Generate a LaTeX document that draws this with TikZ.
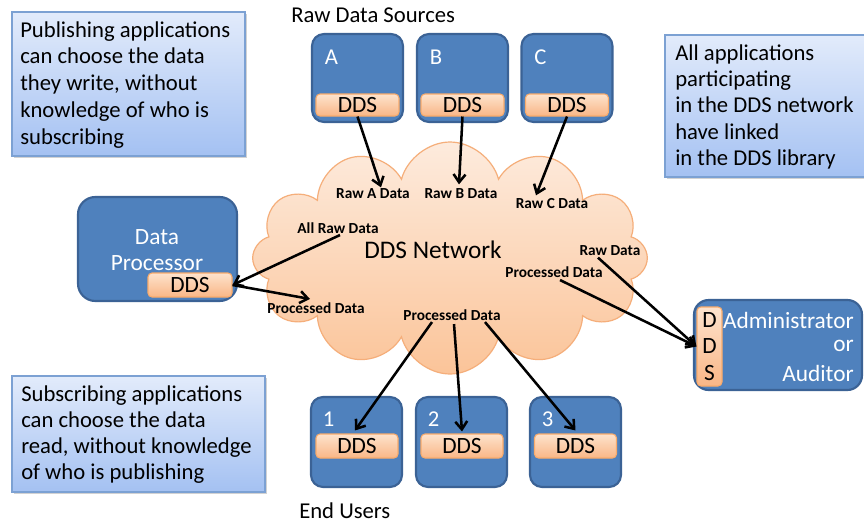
\documentclass[tikz,border=0pt]{standalone}
\usepackage{fontspec}
\setmainfont{Carlito}
\usetikzlibrary{shapes.symbols,arrows.meta,shadows,calc}
\definecolor{boxblue}{HTML}{4F81BD}
\definecolor{boxedge}{HTML}{3B6295}
\definecolor{ddstop}{HTML}{FDE3CD}
\definecolor{ddsbot}{HTML}{F9B686}
\definecolor{ddsedge}{HTML}{F79646}
\definecolor{cloudtop}{HTML}{FDEBDD}
\definecolor{cloudbot}{HTML}{FBC499}
\definecolor{cloudedge}{HTML}{F5AE7A}
\definecolor{notetop}{HTML}{E2EBFB}
\definecolor{notebot}{HTML}{A4C1F2}
\definecolor{noteedge}{HTML}{7CA1D3}
\begin{document}
\begin{tikzpicture}[x=0.75pt,y=-0.75pt,
  appbox/.style={draw=boxedge,fill=boxblue,line width=1.6pt,rounded corners=9pt,inner sep=0pt},
  ddsbox/.style={draw=ddsedge!80,top color=ddstop,bottom color=ddsbot,line width=0.8pt,rounded corners=3pt,inner sep=0pt,font=\fontsize{17.5}{19}\selectfont},
  notebox/.style={draw=noteedge,line width=0.9pt,top color=notetop,bottom color=notebot,inner sep=0pt,
    drop shadow={shadow xshift=1.5pt,shadow yshift=-1.5pt,opacity=0.35}},
  notetext/.style={anchor=north west,align=left,inner sep=0pt,font=\fontsize{17}{20.2}\selectfont},
  whitelbl/.style={text=white,inner sep=0pt,font=\fontsize{17}{19}\selectfont},
  biglbl/.style={text=white,inner sep=0pt,font=\fontsize{17.5}{19.5}\selectfont},
  datalbl/.style={inner sep=1pt,font=\fontsize{11.5}{13}\selectfont\bfseries},
  flow/.style={line width=1.9pt,-{Straight Barb[length=6pt,width=9pt,line width=1.9pt]}},
  caption/.style={inner sep=0pt,font=\fontsize{17}{19.5}\selectfont}
]
\clip (0,0) rectangle (864,525);
\useasboundingbox (0,0) rectangle (864,525);
\fill[white] (0,0) rectangle (864,525);

% notes
\node[notebox,minimum width=174.75pt,minimum height=108pt] (noteTL) at (128.5,84) {};
\node[notetext] (noteTLt) at (20,21) {Publishing applications\\can choose the data\\they write, without\\knowledge of who is\\subscribing};
\node[notebox,minimum width=153pt,minimum height=106.5pt] (noteTR) at (767,106) {};
\node[notetext,font=\fontsize{17}{19.8}\selectfont] (noteTRt) at (675,44) {All applications\\participating\\in the DDS network\\have linked\\in the DDS library};
\node[notebox,minimum width=189.75pt,minimum height=87pt] (noteBL) at (138.5,434) {};
\node[notetext,font=\fontsize{17}{19.5}\selectfont] (noteBLt) at (21,385) {Subscribing applications\\can choose the data\\read, without knowledge\\of who is publishing};

% captions
\node[caption,anchor=west] (srcs) at (291,15) {Raw Data Sources};
\node[caption,anchor=west] (users) at (299,511) {End Users};

% cloud
\node[cloud,cloud puffs=12,aspect=1.7,draw=cloudedge,line width=0.9pt,top color=cloudtop,bottom color=cloudbot,
  minimum width=296pt,minimum height=174pt,inner sep=0pt] (net) at (450,258) {};
\node[inner sep=0pt,font=\fontsize{19}{21}\selectfont] (netlbl) at (433,250) {DDS Network};

% raw sources
\foreach \n/\cx in {A/357.5,B/462.5,C/567}{
  \node[appbox,minimum width=68.25pt,minimum height=66pt] (box\n) at (\cx,78) {};
  \node[ddsbox,minimum width=62.25pt,minimum height=16.5pt] (dds\n) at (\cx,105) {DDS};
  \node[whitelbl,anchor=west] (lbl\n) at (\cx-33,57) {\n};
}

% end users
\foreach \n/\cx/\dx in {1/356.5/357,2/461.5/462,3/575.5/575.5}{
  \node[appbox,minimum width=68.25pt,minimum height=67.5pt] (user\n) at (\cx,442) {};
  \node[ddsbox,minimum width=61.5pt,minimum height=18pt] (udds\n) at (\dx,446) {DDS};
  \node[whitelbl,anchor=west] (ulbl\n) at (\cx-34,419) {\n};
}

% data processor
\node[appbox,rounded corners=13pt,minimum width=119.25pt,minimum height=78pt] (dp) at (157.5,249) {};
\node[biglbl,align=center] (dplbl) at (157,250) {Data\\Processor};
\node[ddsbox,minimum width=63pt,minimum height=18pt] (dpdds) at (190,285) {DDS};

% administrator
\node[appbox,rounded corners=11pt,minimum width=126pt,minimum height=67.5pt] (adm) at (778,345) {};
\node[ddsbox,minimum width=18.75pt,minimum height=59.25pt,align=center,font=\fontsize{17.5}{19.8}\selectfont] (admdds) at (709.5,346.5) {D\\D\\S};
\node[biglbl,anchor=east] (adm1) at (854,320) {Administrator};
\node[biglbl,anchor=east] (adm2) at (854,346) {or};
\node[biglbl,anchor=east] (adm3) at (854,373) {Auditor};

% data labels
\node[datalbl] (rawA) at (373,194) {Raw A Data};
\node[datalbl] (rawB) at (461,194) {Raw B Data};
\node[datalbl] (rawC) at (552,204) {Raw C Data};
\node[datalbl] (allraw) at (338,228) {All Raw Data};
\node[datalbl] (procL) at (316,308) {Processed Data};
\node[datalbl] (procM) at (452,315) {Processed Data};
\node[datalbl] (rawR) at (610,251) {Raw Data};
\node[datalbl] (procR) at (554,272) {Processed Data};

% flows
\draw[flow] (ddsA.south) -- ($(rawA.north)+(8,0)$);
\draw[flow] (ddsB.south) -- ($(rawB.north)+(-2,-3)$);
\draw[flow] (ddsC.south) -- ($(rawC.north)+(-16,-2)$);
\draw[flow] ($(allraw.south)+(2,0)$) -- (dpdds.east);
\draw[flow] (dpdds.east) -- ($(procL.north)+(-6,-2)$);
\draw[flow] ($(procM.south)+(-20,0)$) -- ($(udds1.north)+(-2,-3)$);
\draw[flow] ($(procM.south)+(2,2)$) -- ($(udds2.north)+(0,-2)$);
\draw[flow] ($(procM.south)+(33,0)$) -- ($(udds3.north)+(0,-3)$);
\draw[flow] ($(rawR.south)+(-12,0)$) -- (admdds.west);
\draw[flow] ($(procR.south)+(6,1)$) -- (admdds.west);
\end{tikzpicture}
\end{document}
